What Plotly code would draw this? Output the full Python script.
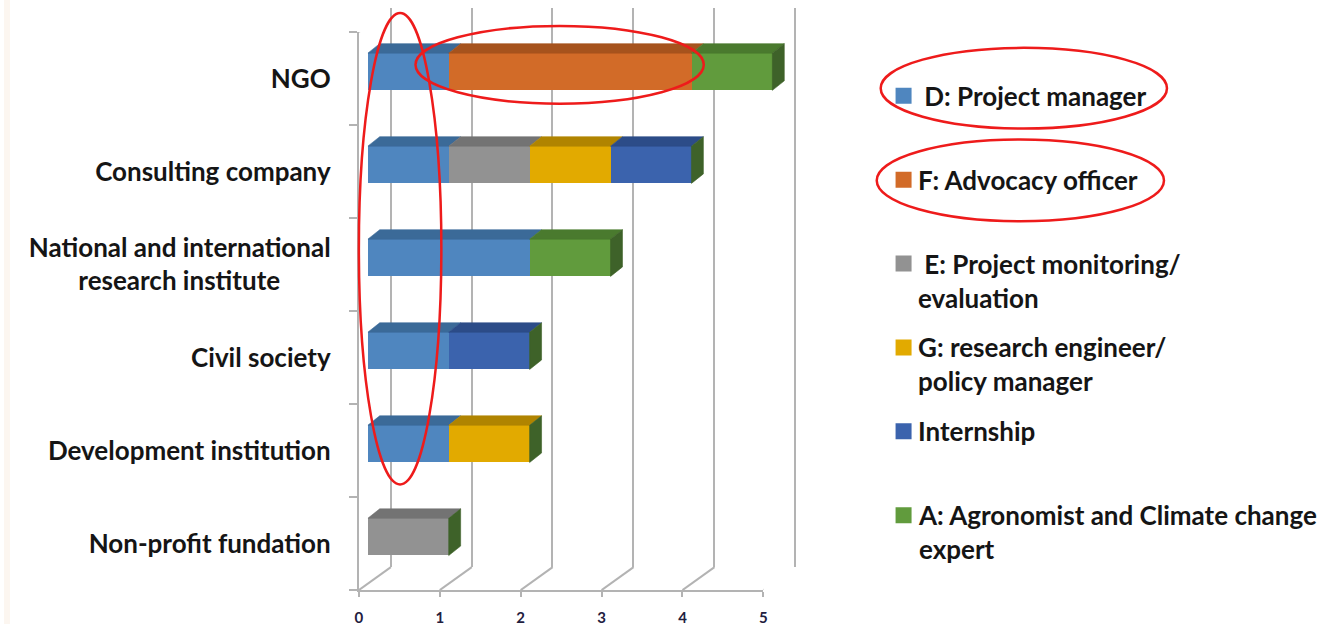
import plotly.graph_objects as go

# ---------------- data ----------------
categories = ["NGO", "Consulting company", "National and international research institute",
              "Civil society", "Development institution", "Non-profit fundation"]
category_ticktext = ["NGO", "Consulting company",
                     "National and international<br>research institute" + "\u00a0" * 8,
                     "Civil society", "Development institution", "Non-profit fundation"]

series_names = ["\u00a0D: Project manager", "F: Advocacy officer",
                "\u00a0E: Project monitoring/<br>evaluation",
                "G: research engineer/<br>policy manager", "Internship",
                "A: Agronomist and Climate change<br>expert"]

d_project_manager = [1, 1, 2, 1, 1, 0]
f_advocacy_officer = [3, 0, 0, 0, 0, 0]
e_monitoring_evaluation = [0, 1, 0, 0, 0, 1]
g_research_engineer = [0, 1, 0, 0, 1, 0]
internship = [0, 1, 0, 1, 0, 0]
a_agronomist = [1, 0, 1, 0, 0, 0]

x_tick_values = [0, 1, 2, 3, 4, 5]

series_values = [d_project_manager, f_advocacy_officer, e_monitoring_evaluation,
                 g_research_engineer, internship, a_agronomist]

# ---------------- styles ----------------
front_colors = ["#4f86bf", "#d26b28", "#929292", "#e2aa00", "#3b63ad", "#619b3d"]
top_colors = ["#3b6a98", "#a6531d", "#737373", "#b08400", "#2c4c88", "#4a7a2e"]
side_color = "#3e6229"
grid_color = "#b3b3b3"
text_color = "#151515"
ellipse_color = "#ee1b1b"
FONT = "Lato"

W, H = 1332, 626
px_per_unit = 81.4
band_px = 560 / 6
bar_width = 0.40
depth_dx = 12 / px_per_unit
depth_dy = 9.5 / band_px
pad_units = 0.5  # extra axis room so 3-D faces are not clipped


def fx(p):
    return p / W


def fy(p):
    return 1 - p / H


fig = go.Figure()

n = len(categories)
cat_idx = list(range(n))

# subplot xy: back wall (gridlines)
fig.add_trace(go.Scatter(x=[None], y=[None], xaxis="x", yaxis="y", showlegend=False, hoverinfo="skip"))
# subplot x2y2: front plane (axes, ticks, category labels)
fig.add_trace(go.Scatter(x=[None], y=[None], xaxis="x2", yaxis="y2", showlegend=False, hoverinfo="skip"))

# subplot x3y3: bars
for name, vals, col in zip(series_names, series_values, front_colors):
    fig.add_trace(go.Bar(x=vals, y=cat_idx, orientation="h", width=bar_width,
                         marker=dict(color=col, line=dict(width=0)),
                         name=name.replace("<br>", " ").strip(), xaxis="x3", yaxis="y3",
                         showlegend=False))

# 3-D top faces
cum = [0.0] * n
for vals, tcol in zip(series_values, top_colors):
    xs, ys = [], []
    for c in range(n):
        v = vals[c]
        if v > 0:
            a = cum[c]
            b = a + v
            top = c - bar_width / 2
            xs += [a, b, b + depth_dx, a + depth_dx, a, None]
            ys += [top, top, top - depth_dy, top - depth_dy, top, None]
            cum[c] = b
    fig.add_trace(go.Scatter(x=xs, y=ys, fill="toself", fillcolor=tcol, mode="lines",
                             line=dict(width=0.6, color=tcol), xaxis="x3", yaxis="y3",
                             showlegend=False, hoverinfo="skip"))

# 3-D side faces (right end)
xs, ys = [], []
for c in range(n):
    t = cum[c]
    top = c - bar_width / 2
    bot = c + bar_width / 2
    xs += [t, t + depth_dx, t + depth_dx, t, t, None]
    ys += [top, top - depth_dy, bot - depth_dy, bot, top, None]
fig.add_trace(go.Scatter(x=xs, y=ys, fill="toself", fillcolor=side_color, mode="lines",
                         line=dict(width=0.6, color=side_color), xaxis="x3", yaxis="y3",
                         showlegend=False, hoverinfo="skip"))

# legend markers (subplot x4y4)
fig.add_trace(go.Scatter(x=[0] * len(series_names), y=list(range(len(series_names))),
                         mode="markers", xaxis="x4", yaxis="y4",
                         marker=dict(symbol="square", size=16, color=front_colors, line=dict(width=0)),
                         showlegend=False, hoverinfo="skip"))

annotations = []
for k, name in enumerate(series_names):
    two_lines = "<br>" in name
    annotations.append(dict(text=name, x=0, y=k, xref="x4", yref="y4", xanchor="left",
                            yanchor="middle", align="left", showarrow=False, xshift=12,
                            yshift=-17 if two_lines else 0,
                            font=dict(family=FONT, size=26, color=text_color, weight="bold")))

shapes = []
# left beige strip
shapes.append(dict(type="rect", xref="paper", yref="paper", x0=0, x1=fx(6), y0=0, y1=1,
                   fillcolor="#fcf6f0", line=dict(width=0), layer="below"))
# floor diagonals
for k in x_tick_values:
    shapes.append(dict(type="line", xref="x2", yref="y2", xsizemode="pixel", ysizemode="pixel",
                       xanchor=k, yanchor=5.5, x0=0, x1=32, y0=0, y1=23,
                       line=dict(color=grid_color, width=2), layer="below"))
# left wall top diagonal
shapes.append(dict(type="line", xref="x2", yref="y2", xsizemode="pixel", ysizemode="pixel",
                   xanchor=0, yanchor=-0.5, x0=0, x1=32, y0=0, y1=23,
                   line=dict(color=grid_color, width=2), layer="below"))

# red ellipses
for (x0, x1, y0, y1) in [(357, 440, 13, 486), (414, 704, 26, 104),
                         (882, 1170, 48, 129), (878, 1167, 140, 222)]:
    shapes.append(dict(type="circle", xref="paper", yref="paper",
                       x0=fx(x0), x1=fx(x1), y0=fy(y1), y1=fy(y0),
                       line=dict(color=ellipse_color, width=2.5), layer="above"))

hidden = dict(visible=False, showgrid=False, zeroline=False)
pad_px = pad_units * px_per_unit

fig.update_layout(
    width=W, height=H, margin=dict(l=0, r=0, t=0, b=0),
    paper_bgcolor="white", plot_bgcolor="rgba(0,0,0,0)",
    font=dict(family=FONT, color=text_color),
    barmode="stack", bargap=0, showlegend=False,
    # back wall
    xaxis=dict(domain=[fx(389 - pad_px), fx(796 + pad_px)], range=[-pad_units, 5 + pad_units],
               anchor="y", showgrid=True, gridcolor=grid_color, gridwidth=2,
               tickmode="array", tickvals=x_tick_values,
               showticklabels=False, ticks="", showline=False, zeroline=False),
    yaxis=dict(domain=[fy(569), fy(8)], range=[0, 1], anchor="x", **hidden),
    # front plane
    xaxis2=dict(domain=[fx(357), fx(764)], range=[0, 5], anchor="y2", showgrid=False,
                zeroline=False, showline=True, linecolor=grid_color, linewidth=2,
                tickmode="array", tickvals=x_tick_values, ticks="outside", ticklen=5,
                tickwidth=2, tickcolor=grid_color, ticklabelstandoff=8,
                tickfont=dict(family=FONT, size=15, color="#1f2040", weight="bold")),
    yaxis2=dict(domain=[fy(592), fy(32)], range=[5.5, -0.5], anchor="x2", showgrid=False,
                zeroline=False, showline=True, linecolor=grid_color, linewidth=2,
                tickmode="array", tickvals=cat_idx, ticktext=category_ticktext, ticks="",
                ticklabelstandoff=21,
                tickfont=dict(family=FONT, size=26, color=text_color, weight="bold"),
                minor=dict(tickvals=[i - 0.5 for i in range(n + 1)], ticks="outside",
                           ticklen=8, tickwidth=2, tickcolor=grid_color, showgrid=False)),
    # bars
    xaxis3=dict(domain=[fx(366), fx(773 + pad_px)], range=[0, 5 + pad_units], anchor="y3", **hidden),
    yaxis3=dict(domain=[fy(585.3), fy(25.3)], range=[5.5, -0.5], anchor="x3", **hidden),
    # legend
    xaxis4=dict(domain=[fx(895), fx(915)], range=[-1, 1], anchor="y4", **hidden),
    yaxis4=dict(domain=[fy(559), fy(54)], range=[5.5, -0.5], anchor="x4", **hidden),
    shapes=shapes, annotations=annotations,
)

fig.write_html("out.html")
